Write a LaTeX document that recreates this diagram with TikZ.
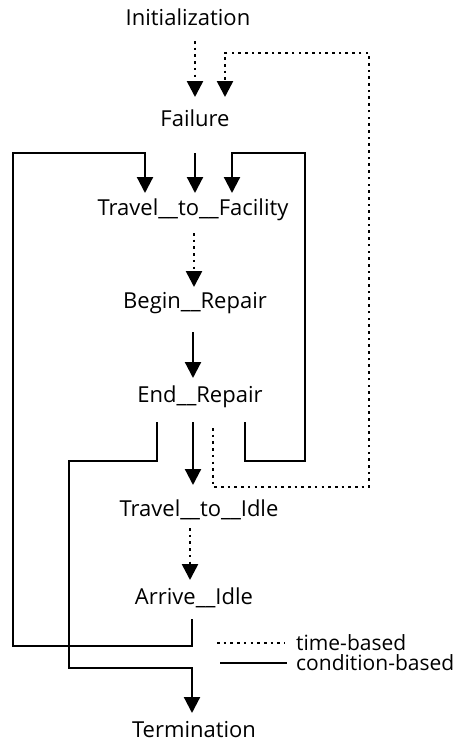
\documentclass[tikz,border=0pt]{standalone}
\usepackage{fontspec}
\setmainfont{Open Sans}
\usetikzlibrary{arrows.meta}
\begin{document}
\begin{tikzpicture}[x=1pt,y=-1pt,
  lbl/.style={inner sep=0pt,font=\fontsize{22}{26}\selectfont},
  leg/.style={inner sep=0pt,anchor=west,font=\fontsize{21}{24}\selectfont},
  cond/.style={line width=2.2pt},
  timed/.style={line width=2.6pt,dash pattern=on 2.6pt off 4.1pt},
  tip/.style={-{Triangle[width=16pt,length=16pt]}}]
\useasboundingbox (0,0) rectangle (461,742);
\node[lbl] (init) at (188,17) {Initialization};
\node[lbl] (fail) at (195,118) {Failure};
\node[lbl] (tf) at (193,210) {Travel\_\_to\_\_Facility};
\node[lbl] (br) at (195,303) {Begin\_\_Repair};
\node[lbl] (er) at (200,397) {End\_\_Repair};
\node[lbl] (ti) at (199,510) {Travel\_\_to\_\_Idle};
\node[lbl] (ai) at (194,598) {Arrive\_\_Idle};
\node[lbl] (term) at (194,730) {Termination};
\node[leg] (tb) at (296,643) {time-based};
\node[leg] (cb) at (296,663) {condition-based};
\coordinate (fbR) at (369,487);
\coordinate (fbT) at (369,53);
\coordinate (lpBL) at (13,646);
\coordinate (lpTL) at (13,153);
\coordinate (rpB) at (305,461);
\coordinate (rpT) at (305,153);
\coordinate (tlT) at (69,461);
\coordinate (tlB) at (69,668);
% main flow
\draw[timed,tip] ([xshift=7pt,yshift=-24pt]init.center) -- ([yshift=21pt]fail.center);
\draw[cond,tip] ([yshift=-35pt]fail.center) -- ([xshift=2pt,yshift=17pt]tf.center);
\draw[timed,tip] ([xshift=1pt,yshift=-23pt]tf.center) -- ([xshift=-1pt,yshift=16pt]br.center);
\draw[cond,tip] ([xshift=-2pt,yshift=-29pt]br.center) -- ([xshift=-7pt,yshift=19pt]er.center);
\draw[cond,tip] ([xshift=-7pt,yshift=-25pt]er.center) -- ([xshift=-6pt,yshift=25pt]ti.center);
\draw[timed,tip] ([xshift=-9pt,yshift=-18pt]ti.center) -- ([xshift=-4pt,yshift=18pt]ai.center);
% feedback loops
\draw[timed,tip] ([xshift=13pt,yshift=-31pt]er.center) |- (fbR) -- (fbT) -| ([xshift=30pt,yshift=21pt]fail.center);
\draw[cond,tip] ([xshift=-2pt,yshift=-21pt]ai.center) |- (lpBL) -- (lpTL) -| ([xshift=-48pt,yshift=17pt]tf.center);
\draw[cond,tip] ([xshift=45pt,yshift=-25pt]er.center) |- (rpB) -- (rpT) -| ([xshift=39pt,yshift=17pt]tf.center);
\draw[cond,tip] ([xshift=-43pt,yshift=-25pt]er.center) |- (tlT) -- (tlB) -| ([xshift=-2pt,yshift=17pt]term.center);
% legend
\draw[timed] ([xshift=-79pt]tb.west) -- ([xshift=-11pt]tb.west);
\draw[cond] ([xshift=-76pt]cb.west) -- ([xshift=-9pt]cb.west);
\end{tikzpicture}
\end{document}
